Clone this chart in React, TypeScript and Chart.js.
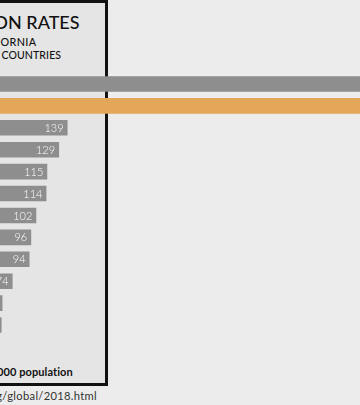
import React, { useEffect, useRef } from "react";
import { Chart, registerables } from "chart.js";

Chart.register(...registerables);

const categories = [
  "United States",
  "California",
  "United Kingdom",
  "Portugal",
  "Luxembourg",
  "Canada",
  "France",
  "Italy",
  "Belgium",
  "Norway",
  "Denmark",
  "Netherlands",
];
const rates = [698, 581, 139, 129, 115, 114, 102, 96, 94, 74, 62, 61];
const highlightIndex = 1;

const titleText = "INCARCERATION RATES";
const subtitleLines = ["CALIFORNIA", "AND THE FOUNDING NATO COUNTRIES"];
const footnoteText = "Incarceration rates per 100,000 population";
const sourceText = "Source: https://www.prisonpolicy.org/global/2018.html";

const GRAY = "#8e8e8e";
const ORANGE = "#e4a658";
const FONT = "Lato, 'Open Sans', sans-serif";

const valueLabels = {
  id: "valueLabels",
  afterDatasetsDraw(chart: any) {
    const ctx = chart.ctx;
    const meta = chart.getDatasetMeta(0);
    ctx.save();
    ctx.font = "300 11px " + FONT;
    ctx.fillStyle = "#ffffff";
    ctx.textAlign = "right";
    ctx.textBaseline = "middle";
    meta.data.forEach((bar: any, i: number) => {
      ctx.fillText(String(rates[i]), bar.x - 4, bar.y + 0.5);
    });
    ctx.restore();
  },
};

type TextSpec = {
  text: string;
  right: number;
  baseline: number;
  size: number;
  weight: number;
  spacing: number;
  color: string;
};

const texts: TextSpec[] = [
  { text: titleText, right: 79.5, baseline: 28.5, size: 18, weight: 500, spacing: 0, color: "#111" },
  { text: subtitleLines[0], right: 36.2, baseline: 47, size: 10.8, weight: 500, spacing: 0.4, color: "#111" },
  { text: subtitleLines[1], right: 61, baseline: 59.5, size: 10.5, weight: 500, spacing: 0.1, color: "#111" },
  { text: footnoteText, right: 72.7, baseline: 376, size: 11, weight: 700, spacing: 0.1, color: "#111" },
  { text: sourceText, right: 96.7, baseline: 399.5, size: 11.2, weight: 400, spacing: 0.3, color: "#333" },
];

export default function App() {
  const ref = useRef<HTMLCanvasElement | null>(null);

  useEffect(() => {
    if (!ref.current) return;
    const chart = new Chart(ref.current, {
      type: "bar",
      data: {
        labels: categories,
        datasets: [
          {
            data: rates,
            backgroundColor: rates.map((_, i) => (i === highlightIndex ? ORANGE : GRAY)),
            borderWidth: 0,
            barPercentage: 0.71,
            categoryPercentage: 1,
          },
        ],
      },
      options: {
        indexAxis: "y",
        responsive: false,
        maintainAspectRatio: false,
        animation: false,
        layout: { padding: 0 },
        plugins: {
          legend: { display: false },
          tooltip: { enabled: false },
          title: { display: false },
        },
        scales: {
          x: { display: false, min: 0, max: 720, grid: { display: false } },
          y: { display: false, grid: { display: false } },
        },
      },
      plugins: [valueLabels],
    });
    return () => chart.destroy();
  }, []);

  return (
    <div
      style={{
        position: "fixed",
        left: 0,
        top: 0,
        width: 360,
        height: 405,
        overflow: "hidden",
        background: "#ececec",
      }}
    >
      <div
        style={{
          position: "absolute",
          left: -200,
          top: 0,
          width: 308,
          height: 386,
          boxSizing: "border-box",
          border: "3px solid #111",
          background: "#e5e5e5",
        }}
      />
      {texts.map((t, i) => (
        <div
          key={i}
          style={{
            position: "absolute",
            right: 360 - t.right - t.spacing,
            top: t.baseline - 0.887 * t.size,
            fontSize: t.size,
            lineHeight: t.size + "px",
            whiteSpace: "nowrap",
            textAlign: "right",
            fontFamily: FONT,
            fontWeight: t.weight,
            letterSpacing: t.spacing,
            color: t.color,
          }}
        >
          {t.text}
        </div>
      ))}
      <canvas
        ref={ref}
        width={609}
        height={263}
        style={{ position: "absolute", left: -50, top: 72.5, width: 609, height: 263 }}
      />
    </div>
  );
}
